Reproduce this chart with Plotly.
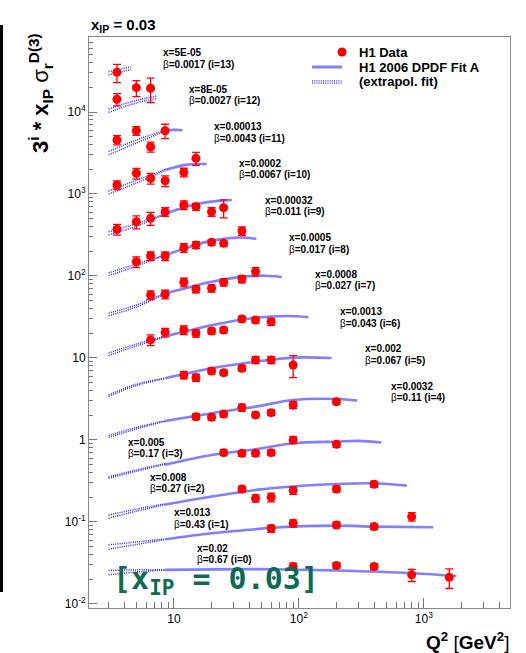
import plotly.graph_objects as go

# ---------------- data ----------------
# bin index i (curves are scaled by 3^i), Bjorken x and beta of every bin
BIN_I = [13, 12, 11, 10, 9, 8, 7, 6, 5, 4, 3, 2, 1, 0]
X_TXT = ["5E-05", "8E-05", "0.00013", "0.0002", "0.00032", "0.0005", "0.0008",
         "0.0013", "0.002", "0.0032", "0.005", "0.008", "0.013", "0.02"]
BETA_TXT = ["0.0017", "0.0027", "0.0043", "0.0067", "0.011", "0.017", "0.027",
            "0.043", "0.067", "0.11", "0.17", "0.27", "0.43", "0.67"]

# H1 measurements: Q^2, 3^i * x_IP * sigma_r^D(3), total error in percent
DATA_Q2 = [
    [3.5],
    [3.5, 5, 6.5],
    [3.5, 5, 6.5, 8.5],
    [3.5, 5, 6.5, 8.5, 12, 15],
    [3.5, 5, 6.5, 8.5, 12, 15, 20, 25],
    [5, 6.5, 8.5, 12, 15, 20, 25, 35],
    [6.5, 8.5, 12, 15, 20, 25, 35, 45],
    [6.5, 8.5, 12, 15, 20, 25, 35, 45, 60],
    [12, 15, 20, 25, 35, 45, 60, 90],
    [15, 20, 25, 35, 45, 60, 90, 200],
    [25, 35, 45, 60, 90, 200],
    [35, 45, 60, 90, 200, 400],
    [60, 90, 200, 400, 800],
    [90, 200, 400, 800, 1600],
]
DATA_VAL = [
    [30500],
    [14300, 19800, 19500],
    [4560, 5910, 3770, 5910],
    [1290, 1790, 1550, 1450, 1840, 2720],
    [371, 459, 505, 608, 734, 700, 608, 680],
    [149, 175, 175, 221, 239, 257, 250, 354],
    [58.6, 59.8, 83.8, 69.4, 70.8, 83.8, 91.9, 113],
    [16.6, 20.5, 21.9, 20.0, 21.3, 21.9, 29.9, 29.0, 27.7],
    [6.2, 5.75, 6.94, 6.62, 7.49, 9.46, 9.46, 8.2],
    [1.92, 1.89, 2.07, 2.48, 2.02, 2.15, 2.67, 2.93],
    [0.70, 0.687, 0.687, 0.70, 1.0, 0.885],
    [0.252, 0.194, 0.20, 0.241, 0.252, 0.288],
    [0.083, 0.0964, 0.0918, 0.0877, 0.116],
    [0.0285, 0.0294, 0.0285, 0.0226, 0.0211],
]
DATA_ERR_PCT = [
    [25],
    [17, 22, 33],
    [13, 12, 14, 20],
    [12, 15, 15, 15, 12, 18],
    [15, 18, 18, 12, 12, 10, 12, 25],
    [15, 12, 12, 12, 10, 8, 8, 12],
    [12, 12, 12, 10, 10, 10, 10, 12],
    [15, 12, 12, 10, 8, 8, 8, 8, 10],
    [10, 10, 8, 8, 8, 10, 10, 30],
    [8, 8, 8, 10, 8, 8, 10, 8],
    [8, 8, 8, 8, 10, 8],
    [8, 10, 12, 10, 8, 8],
    [10, 10, 8, 8, 12],
    [10, 8, 8, 17, 27],
]

# H1 2006 DPDF Fit A inside the fitted region (Q^2 >= 8.5)
FIT_Q2 = [
    [], [],
    [8.5, 10, 11.7],
    [8.5, 12, 15, 18.3],
    [8.5, 12, 18, 25, 29],
    [8.5, 12, 20, 33, 45.7],
    [8.5, 12, 20, 45, 73],
    [8.5, 20, 45, 80, 119],
    [8.5, 20, 45, 90, 183],
    [8.5, 20, 45, 90, 200, 293],
    [8.5, 20, 45, 90, 200, 300, 457],
    [8.5, 20, 45, 60, 200, 400, 731],
    [8.5, 20, 45, 60, 200, 400, 1189],
    [8.5, 60, 200, 800, 1829],
]
FIT_VAL = [
    [], [],
    [5900, 6050, 6000],
    [1960, 2250, 2320, 2320],
    [570, 690, 790, 835, 845],
    [180, 215, 270, 295, 284],
    [61.5, 70, 85, 101, 97],
    [18.2, 25, 30.9, 32.5, 31.5],
    [5.65, 7.5, 9.0, 10.1, 10.0],
    [1.7, 2.12, 2.55, 3.07, 3.16, 3.02],
    [0.5, 0.656, 0.77, 0.91, 0.955, 0.973, 0.93],
    [0.163, 0.204, 0.245, 0.258, 0.29, 0.296, 0.277],
    [0.0615, 0.0728, 0.0814, 0.085, 0.09, 0.0877, 0.086],
    [0.026, 0.0265, 0.0255, 0.0237, 0.0219],
]

# extrapolated fit below Q^2 = 8.5: upper and lower edge of the band
EXT_Q2 = [
    [3, 4.5],
    [3, 5, 7.3],
] + [[3, 5, 8.5]] * 12
EXT_HI = [
    [31000, 35500],
    [10900, 13900, 15700],
    [3300, 4550, 6000],
    [1090, 1470, 1990],
    [345, 435, 575],
    [109, 140, 181],
    [35.2, 44.3, 62],
    [11.5, 14.8, 18.3],
    [3.55, 4.78, 5.68],
    [1.13, 1.42, 1.71],
    [0.355, 0.43, 0.515],
    [0.1216, 0.143, 0.166],
    [0.0525, 0.057, 0.062],
    [0.0255, 0.026, 0.026],
]
EXT_LO = [
    [28500, 33000],
    [9900, 12900, 14700],
    [3000, 4200, 5800],
    [1000, 1360, 1930],
    [318, 405, 565],
    [101, 132, 179],
    [32.8, 41.8, 61],
    [10.7, 14.0, 18.1],
    [3.4, 4.6, 5.62],
    [1.07, 1.36, 1.69],
    [0.34, 0.415, 0.505],
    [0.111, 0.135, 0.163],
    [0.0465, 0.053, 0.061],
    [0.0226, 0.0245, 0.026],
]

# legend entries
LEGEND_TXT = ["H1 Data", "H1 2006 DPDF Fit A", "(extrapol. fit)"]

# axis ticks
X_MAJOR = [10, 100, 1000]
X_MAJOR_TXT = ["10", "10<sup>2</sup>", "10<sup>3</sup>"]
X_MINOR = [3, 4, 5, 6, 7, 8, 9, 20, 30, 40, 50, 60, 70, 80, 90,
           200, 300, 400, 500, 600, 700, 800, 900, 2000, 3000, 4000]
Y_MAJOR = [0.01, 0.1, 1, 10, 100, 1000, 10000]
Y_MAJOR_TXT = ["10<sup>-2</sup>", "10<sup>-1</sup>", "1", "10",
               "10<sup>2</sup>", "10<sup>3</sup>", "10<sup>4</sup>"]
Y_MINOR = [m * 10 ** e for e in range(-2, 5) for m in range(2, 10)]

# ---------------- layout helpers ----------------
W, H = 526, 653
L, R, T, B = 89, 510, 37, 608          # plot frame in pixels


def px(xp):
    return (xp - L) / (R - L)


def py(yp):
    return (B - yp) / (B - T)


# left edge of the first label line and its vertical centre, per bin
LABEL_POS = [(161, 52.7), (187, 89.3), (211.7, 126.7), (237.3, 163.3),
             (262.7, 200), (287.3, 237.7), (312.7, 274.3), (338.3, 311.7),
             (363.3, 349), (389, 386), (126, 442), (148.3, 477.3),
             (171.7, 512.7), (195, 548.3)]
LINE_GAP = 11.3

# legend box geometry (pixels): sample span, text start, row centres
LEG_SAMPLE = (312, 342)
LEG_TEXT_X = 357
LEG_ROWS = [52, 67, 82]

RED = "#ff0000"
FIT_COLOR = "rgba(105,105,255,0.85)"
EXT_COLOR = "#2a2aff"
EXT_DASH = "1px,1.2px"
FONT = "Liberation Sans, Arial, sans-serif"

fig = go.Figure()

# fitted curves (solid band)
for k in range(len(BIN_I)):
    if FIT_Q2[k]:
        fig.add_trace(go.Scatter(
            x=FIT_Q2[k], y=FIT_VAL[k], mode="lines",
            line=dict(color=FIT_COLOR, width=2.6, shape="spline", smoothing=1.0),
            name=LEGEND_TXT[1], showlegend=False, hoverinfo="skip"))

# extrapolated curves (double dotted)
for k in range(len(BIN_I)):
    for vals in (EXT_HI[k], EXT_LO[k]):
        fig.add_trace(go.Scatter(
            x=EXT_Q2[k], y=vals, mode="lines",
            line=dict(color=EXT_COLOR, width=1.5, dash=EXT_DASH, shape="spline"),
            name=LEGEND_TXT[2], showlegend=False, hoverinfo="skip"))

# measurements
for k in range(len(BIN_I)):
    err = [v * p / 100.0 for v, p in zip(DATA_VAL[k], DATA_ERR_PCT[k])]
    fig.add_trace(go.Scatter(
        x=DATA_Q2[k], y=DATA_VAL[k], mode="markers",
        marker=dict(color=RED, size=9, symbol="circle"),
        error_y=dict(type="data", array=err, visible=True, color=RED,
                     thickness=1.3, width=4),
        name=LEGEND_TXT[0], showlegend=False))

# minor ticks drawn on overlaid helper axes
fig.add_trace(go.Scatter(x=[], y=[], xaxis="x2", yaxis="y2", showlegend=False))

annotations = []
for k, i in enumerate(BIN_I):
    x0, y0 = LABEL_POS[k]
    annotations.append(dict(
        x=px(x0), y=py(y0), xref="paper", yref="paper",
        xanchor="left", yanchor="middle", showarrow=False,
        text="<b>x=%s</b>" % X_TXT[k],
        font=dict(family=FONT, size=10, color="black")))
    annotations.append(dict(
        x=px(x0), y=py(y0 + LINE_GAP), xref="paper", yref="paper",
        xanchor="left", yanchor="middle", showarrow=False,
        text="β<b>=%s (i=%d)</b>" % (BETA_TXT[k], i),
        font=dict(family=FONT, size=10, color="black")))

# legend texts
for txt, row in zip(LEGEND_TXT, LEG_ROWS):
    annotations.append(dict(
        x=px(LEG_TEXT_X), y=py(row), xref="paper", yref="paper",
        xanchor="left", yanchor="middle", showarrow=False,
        text="<b>%s</b>" % txt,
        font=dict(family=FONT, size=13, color="black")))

# title above the frame
annotations.append(dict(
    x=px(89), y=py(26), xref="paper", yref="paper", xanchor="left",
    yanchor="middle", showarrow=False,
    text="<b>x<sub>IP</sub> = 0.03</b>",
    font=dict(family=FONT, size=15, color="black")))

# y-axis title, top aligned
annotations.append(dict(
    x=px(41), y=py(31), xref="paper", yref="paper", xanchor="center",
    yanchor="top", showarrow=False, textangle=-90,
    text="<b>3<sup>i</sup> * x<sub>IP</sub> </b>σ<sub><b>r</b></sub><sup><b>D(3)</b></sup>",
    font=dict(family=FONT, size=22, color="black")))

# x-axis title, right aligned
annotations.append(dict(
    x=px(511), y=py(641), xref="paper", yref="paper", xanchor="right",
    yanchor="middle", showarrow=False,
    text="<b>Q<sup>2</sup></b> [<b>GeV<sup>2</sup></b>]",
    font=dict(family=FONT, size=19, color="black")))

# stamp
annotations.append(dict(
    x=px(111), y=py(580), xref="paper", yref="paper", xanchor="left",
    yanchor="middle", showarrow=False,
    text="[x<sub>IP</sub> = 0.03]",
    font=dict(family="DejaVu Sans Mono, monospace", size=30, color="#0f6a55",
              weight="bold")))

# legend swatches
s0, s1 = LEG_SAMPLE
shapes = [
    dict(type="circle", xref="paper", yref="paper",
         x0=px(s1 - 4.5), x1=px(s1 + 4.5), y0=py(LEG_ROWS[0] + 4.5),
         y1=py(LEG_ROWS[0] - 4.5), fillcolor=RED, line=dict(width=0)),
    dict(type="line", xref="paper", yref="paper",
         x0=px(s0), x1=px(s1), y0=py(LEG_ROWS[1]), y1=py(LEG_ROWS[1]),
         line=dict(color=FIT_COLOR, width=3)),
    dict(type="line", xref="paper", yref="paper",
         x0=px(s0), x1=px(s1), y0=py(LEG_ROWS[2] - 1.2), y1=py(LEG_ROWS[2] - 1.2),
         line=dict(color=EXT_COLOR, width=1.3, dash=EXT_DASH)),
    dict(type="line", xref="paper", yref="paper",
         x0=px(s0), x1=px(s1), y0=py(LEG_ROWS[2] + 1.2), y1=py(LEG_ROWS[2] + 1.2),
         line=dict(color=EXT_COLOR, width=1.3, dash=EXT_DASH)),
    # page edge
    dict(type="line", xref="paper", yref="paper",
         x0=px(1.5), x1=px(1.5), y0=py(25), y1=py(592),
         line=dict(color="black", width=3)),
]

axis_common = dict(showgrid=False, zeroline=False)

fig.update_layout(
    width=W, height=H,
    margin=dict(l=L, r=W - R, t=T, b=H - B, pad=0),
    paper_bgcolor="white", plot_bgcolor="white",
    font=dict(family=FONT, size=12, color="black"),
    xaxis=dict(type="log", range=[0.32, 3.69], ticks="inside", ticklen=10,
               tickcolor="#777", tickwidth=1,
               tickvals=X_MAJOR, ticktext=X_MAJOR_TXT,
               tickfont=dict(family=FONT, size=12, color="black"),
               showline=True, linecolor="#888", linewidth=1, mirror=True,
               **axis_common),
    yaxis=dict(type="log", range=[-2.05, 4.915], ticks="inside", ticklen=8,
               tickcolor="#777", tickwidth=1,
               tickvals=Y_MAJOR, ticktext=Y_MAJOR_TXT,
               tickfont=dict(family=FONT, size=12, color="black"),
               showline=True, linecolor="#888", linewidth=1, mirror=True,
               **axis_common),
    xaxis2=dict(type="log", range=[0.32, 3.69], overlaying="x", matches="x",
                ticks="inside", ticklen=6, tickcolor="#777",
                tickvals=X_MINOR, showticklabels=False, anchor="y",
                side="bottom", **axis_common),
    yaxis2=dict(type="log", range=[-2.05, 4.915], overlaying="y", matches="y",
                ticks="inside", ticklen=4, tickcolor="#777",
                tickvals=Y_MINOR, showticklabels=False, anchor="x",
                side="left", **axis_common),
    annotations=annotations,
    shapes=shapes,
    showlegend=False,
)

fig.write_html("out.html")
